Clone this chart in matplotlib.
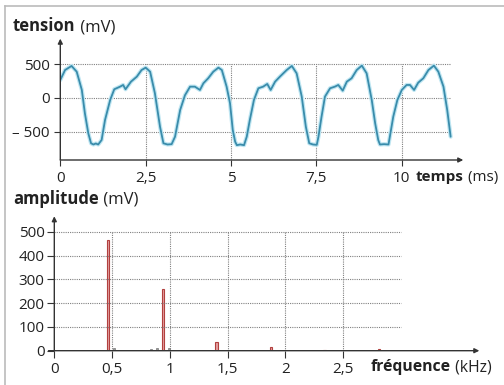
import matplotlib
matplotlib.use("Agg")
import matplotlib.pyplot as plt

# signal (top chart)
temps_ms = [0, 0.14, 0.33, 0.48, 0.63, 0.72, 0.82, 0.90, 0.97, 1.04, 1.11, 1.21, 1.31, 1.46, 1.58,
            1.75, 1.84, 1.91, 2.07, 2.24, 2.38, 2.50, 2.63, 2.77, 2.92, 3.02, 3.14, 3.26, 3.36, 3.51,
            3.65, 3.80, 3.94, 4.09, 4.19, 4.33, 4.48, 4.63, 4.73, 4.87, 4.97, 5.05, 5.12, 5.17, 5.27,
            5.38, 5.46, 5.55, 5.67, 5.80, 5.94, 6.06, 6.16, 6.29, 6.43, 6.63, 6.78, 6.92, 7.07, 7.19,
            7.29, 7.40, 7.51, 7.56, 7.65, 7.75, 7.90, 8.04, 8.14, 8.27, 8.39, 8.53, 8.68, 8.83, 8.97,
            9.12, 9.22, 9.31, 9.36, 9.48, 9.61, 9.65, 9.75, 9.87, 10.0, 10.14, 10.24, 10.36, 10.48,
            10.63, 10.78, 10.94, 11.07, 11.22, 11.33, 11.43]
tension_mv = [267, 415, 475, 390, 119, -227, -524, -672, -690, -675, -690, -623, -326, -30, 129,
              168, 193, 129, 242, 316, 415, 450, 390, 70, -426, -672, -690, -685, -574, -178,
              40, 168, 168, 119, 218, 292, 390, 450, 415, 168, -79, -475, -648, -700, -690,
              -700, -574, -326, -30, 144, 168, 208, 119, 242, 316, 415, 475, 366, 20, -426,
              -672, -690, -695, -574, -277, 20, 144, 168, 193, 109, 242, 292, 415, 480, 366,
              -30, -376, -623, -690, -685, -690, -574, -277, -30, 119, 193, 193, 119, 227,
              292, 415, 480, 390, 168, -178, -574]

# spectrum (bottom chart)
freq_harm = [0.465, 0.94, 1.405, 1.875, 2.34, 2.81]
amp_harm = [465, 258, 35, 15, 5, 7]
freq_small = [0.30, 0.41, 0.52, 0.56, 0.73, 0.84, 0.89, 0.99, 1.35]
amp_small = [2, 3, 13, 3, 2, 7, 10, 10, 3]

top_xticks = [0, 2.5, 5, 7.5, 10]
top_xlabels = ['0', '2,5', '5', '7,5', '10']
top_yticks = [500, 0, -500]
top_ylabels = ['500', '0', '\u2013 500']
bot_xticks = [0, 0.5, 1, 1.5, 2, 2.5]
bot_xlabels = ['0', '0,5', '1', '1,5', '2', '2,5']
bot_yticks = [0, 100, 200, 300, 400, 500]

W, H = 504, 385
plt.rcParams['font.family'] = ['Open Sans', 'DejaVu Sans']
TXT = '#222222'
GRID = '#808080'

fig = plt.figure(figsize=(W / 100, H / 100), dpi=100)


def px_axes(left, top, right, bottom):
    ax = fig.add_axes([left / W, 1 - bottom / H, (right - left) / W, (bottom - top) / H])
    ax.patch.set_alpha(0)
    for s in ax.spines.values():
        s.set_visible(False)
    return ax


def arrow(ax, x0, y0, x1, y1):
    ax.annotate('', xy=(x1, y1), xytext=(x0, y0), annotation_clip=False,
                arrowprops=dict(arrowstyle='-|>', color='#333333', lw=1.0,
                                mutation_scale=7, shrinkA=0, shrinkB=0))


def two_part(x, y, bold, normal, size):
    t1 = fig.text(x / W, 1 - y / H, bold, fontsize=size, fontweight='bold', color=TXT, va='baseline')
    fig.canvas.draw()
    bb = t1.get_window_extent()
    fig.text(bb.x1 / W, 1 - y / H, normal, fontsize=size, color=TXT, va='baseline')


# frame of the document
fig.add_artist(plt.Line2D([5 / W, 5 / W], [0, 1 - 6 / H], color='#bbbbbb', lw=1.2))
fig.add_artist(plt.Line2D([5 / W, 1], [1 - 6 / H, 1 - 6 / H], color='#bbbbbb', lw=1.2))

# ---- top : tension
ax1 = px_axes(60.3, 37.3, 60.3 + 12 * 34.15, 160)
ax1.set_xlim(0, 12)
ax1.set_ylim(-920, 900)
for yv in top_yticks:
    ax1.plot([0, 11.4], [yv, yv], ls=(0, (1, 1)), color=GRID, lw=0.8)
for xv in top_xticks[1:]:
    ax1.plot([xv, xv], [-920, 500], ls=(0, (1, 1)), color=GRID, lw=0.8)
ax1.plot(temps_ms, tension_mv, color='#bfe6f2', lw=3.0, solid_joinstyle='round', solid_capstyle='round')
ax1.plot(temps_ms, tension_mv, color='#3a8cab', lw=1.3, solid_joinstyle='round', solid_capstyle='round')
arrow(ax1, 0, -920, 11.8, -920)
arrow(ax1, 0, -920, 0, 880)
ax1.set_xticks(top_xticks, top_xlabels)
ax1.set_yticks(top_yticks, top_ylabels)
ax1.tick_params(axis='both', length=4, color='#333333', labelsize=11, labelcolor=TXT)
ax1.tick_params(axis='x', pad=4)
ax1.tick_params(axis='y', pad=3.5)

# ---- bottom : spectrum
ax2 = px_axes(54.3, 212.7, 54.3 + 3.75 * 115.5, 350.7)
ax2.set_xlim(0, 3.75)
ax2.set_ylim(0, 580)
for yv in bot_yticks[1:]:
    ax2.plot([0, 3.0], [yv, yv], ls=(0, (1, 1)), color=GRID, lw=0.8)
for xv in bot_xticks[1:]:
    ax2.plot([xv, xv], [0, 500], ls=(0, (1, 1)), color=GRID, lw=0.8)
ax2.bar(freq_small, amp_small, width=0.018, color='#999999', edgecolor='#777777', lw=0.5)
ax2.bar(freq_harm, amp_harm, width=0.02, color='#e3a2a2', edgecolor='#b2403f', lw=0.8)
arrow(ax2, -0.05, 0, 3.68, 0)
arrow(ax2, 0, 0, 0, 565)
ax2.set_xticks(bot_xticks, bot_xlabels)
ax2.set_yticks(bot_yticks, [str(v) for v in bot_yticks])
ax2.tick_params(axis='both', length=5, color='#333333', labelsize=11, labelcolor=TXT)
ax2.tick_params(axis='x', pad=3)
ax2.tick_params(axis='y', pad=2)

# axis titles
two_part(13, 31, 'tension', ' (mV)', 12)
two_part(416, 181, 'temps', ' (ms)', 11)
two_part(13, 204, 'amplitude', ' (mV)', 12)
two_part(371, 371, 'fr\u00e9quence', ' (kHz)', 11.3)

fig.savefig('out.png', dpi=100)
